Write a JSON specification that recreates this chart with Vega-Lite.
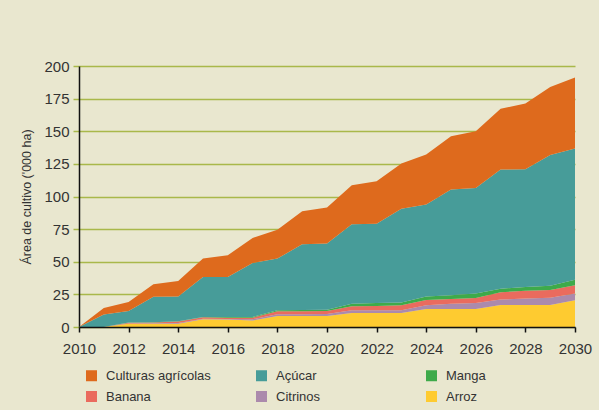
{
  "$schema": "https://vega.github.io/schema/vega-lite/v6.json",
  "autosize": "none",
  "width": 496,
  "height": 261,
  "padding": {"left": 79, "top": 66, "right": 24, "bottom": 83},
  "background": "#e9e7cf",
  "data": {
    "values": [
      {"year": 2010, "Arroz": 0, "Citrinos": 0, "Banana": 0, "Manga": 0, "Açúcar": 0, "Culturas agrícolas": 0},
      {"year": 2011, "Arroz": 0, "Citrinos": 0, "Banana": 0, "Manga": 0, "Açúcar": 9.6, "Culturas agrícolas": 5.0},
      {"year": 2012, "Arroz": 2.4, "Citrinos": 0.3, "Banana": 0.5, "Manga": 0.2, "Açúcar": 8.8, "Culturas agrícolas": 7.0},
      {"year": 2013, "Arroz": 2.5, "Citrinos": 0.3, "Banana": 0.7, "Manga": 0.2, "Açúcar": 19.5, "Culturas agrícolas": 9.5},
      {"year": 2014, "Arroz": 2.5, "Citrinos": 0.5, "Banana": 1.2, "Manga": 0.3, "Açúcar": 18.8, "Culturas agrícolas": 12.0},
      {"year": 2015, "Arroz": 5.9, "Citrinos": 0.5, "Banana": 1.0, "Manga": 0.3, "Açúcar": 30.6, "Culturas agrícolas": 14.1},
      {"year": 2016, "Arroz": 5.7, "Citrinos": 0.4, "Banana": 1.0, "Manga": 0.5, "Açúcar": 30.7, "Culturas agrícolas": 16.6},
      {"year": 2017, "Arroz": 4.9, "Citrinos": 1.0, "Banana": 1.2, "Manga": 0.6, "Açúcar": 41.3, "Culturas agrícolas": 19.2},
      {"year": 2018, "Arroz": 8.4, "Citrinos": 1.3, "Banana": 2.3, "Manga": 0.8, "Açúcar": 39.6, "Culturas agrícolas": 22.2},
      {"year": 2019, "Arroz": 8.4, "Citrinos": 1.4, "Banana": 2.3, "Manga": 0.9, "Açúcar": 50.4, "Culturas agrícolas": 25.3},
      {"year": 2020, "Arroz": 8.4, "Citrinos": 1.5, "Banana": 2.4, "Manga": 1.0, "Açúcar": 50.6, "Culturas agrícolas": 27.6},
      {"year": 2021, "Arroz": 10.8, "Citrinos": 2.0, "Banana": 3.1, "Manga": 2.0, "Açúcar": 60.8, "Culturas agrícolas": 29.9},
      {"year": 2022, "Arroz": 10.8, "Citrinos": 2.0, "Banana": 3.3, "Manga": 2.2, "Açúcar": 60.9, "Culturas agrícolas": 32.4},
      {"year": 2023, "Arroz": 10.8, "Citrinos": 2.0, "Banana": 3.8, "Manga": 2.1, "Açúcar": 72.0, "Culturas agrícolas": 34.5},
      {"year": 2024, "Arroz": 13.8, "Citrinos": 2.8, "Banana": 4.1, "Manga": 2.6, "Açúcar": 70.5, "Culturas agrícolas": 38.3},
      {"year": 2025, "Arroz": 13.8, "Citrinos": 4.1, "Banana": 3.6, "Manga": 2.8, "Açúcar": 81.0, "Culturas agrícolas": 40.8},
      {"year": 2026, "Arroz": 13.8, "Citrinos": 4.6, "Banana": 3.8, "Manga": 3.4, "Açúcar": 80.9, "Culturas agrícolas": 43.5},
      {"year": 2027, "Arroz": 16.9, "Citrinos": 4.1, "Banana": 5.6, "Manga": 2.8, "Açúcar": 91.2, "Culturas agrícolas": 46.7},
      {"year": 2028, "Arroz": 16.9, "Citrinos": 4.9, "Banana": 5.9, "Manga": 3.0, "Açúcar": 90.1, "Culturas agrícolas": 50.4},
      {"year": 2029, "Arroz": 16.9, "Citrinos": 5.6, "Banana": 5.9, "Manga": 3.3, "Açúcar": 100.1, "Culturas agrícolas": 52.1},
      {"year": 2030, "Arroz": 20.5, "Citrinos": 5.1, "Banana": 6.4, "Manga": 4.3, "Açúcar": 100.4, "Culturas agrícolas": 54.4}
    ]
  },
  "transform": [
    {"fold": ["Arroz", "Citrinos", "Banana", "Manga", "Açúcar", "Culturas agrícolas"], "as": ["crop", "value"]},
    {"calculate": "indexof(['Arroz','Citrinos','Banana','Manga','Açúcar','Culturas agrícolas'], datum.crop)", "as": "stackOrder"}
  ],
  "mark": {"type": "area", "interpolate": "linear"},
  "encoding": {
    "x": {
      "field": "year",
      "type": "quantitative",
      "scale": {"domain": [2010, 2030], "nice": false, "zero": false},
      "axis": {
        "title": null,
        "values": [2010, 2012, 2014, 2016, 2018, 2020, 2022, 2024, 2026, 2028, 2030],
        "format": "d",
        "grid": false,
        "domainColor": "#111111",
        "domainWidth": 1.5,
        "tickColor": "#111111",
        "tickWidth": 1.5,
        "tickSize": 5,
        "labelFontSize": 15,
        "labelColor": "#333333",
        "labelPadding": 9,
        "labelFlush": false,
        "zindex": 1
      }
    },
    "y": {
      "field": "value",
      "type": "quantitative",
      "stack": "zero",
      "scale": {"domain": [0, 200], "nice": false},
      "axis": {
        "title": "Área de cultivo ('000 ha)",
        "values": [0, 25, 50, 75, 100, 125, 150, 175, 200],
        "grid": true,
        "gridColor": "#a9b84a",
        "gridWidth": 1.5,
        "domainColor": "#111111",
        "domainWidth": 1.5,
        "tickColor": "#a9b84a",
        "tickWidth": 1.5,
        "tickSize": 6,
        "labelFontSize": 15,
        "labelColor": "#333333",
        "labelPadding": 4,
        "titleFontSize": 12.5,
        "titleFontWeight": "normal",
        "titleColor": "#333333",
        "titlePadding": 10,
        "zindex": 0
      }
    },
    "color": {
      "field": "crop",
      "type": "nominal",
      "scale": {
        "domain": ["Culturas agrícolas", "Açúcar", "Manga", "Banana", "Citrinos", "Arroz"],
        "range": ["#de6a1d", "#479c99", "#3eaa4a", "#ea6b5e", "#ab8aac", "#fecb30"]
      },
      "legend": {
        "title": null,
        "orient": "none",
        "legendX": 6,
        "legendY": 303,
        "direction": "horizontal",
        "columns": 3,
        "columnPadding": 44,
        "rowPadding": 7,
        "gridAlign": "all",
        "padding": 0,
        "symbolType": "square",
        "symbolSize": 121,
        "symbolStrokeWidth": 0,
        "labelFontSize": 13,
        "labelOffset": 8,
        "labelColor": "#333333",
        "labelLimit": 300
      }
    },
    "order": {"field": "stackOrder", "type": "quantitative"}
  },
  "config": {
    "font": "Liberation Sans",
    "view": {"stroke": null}
  }
}
